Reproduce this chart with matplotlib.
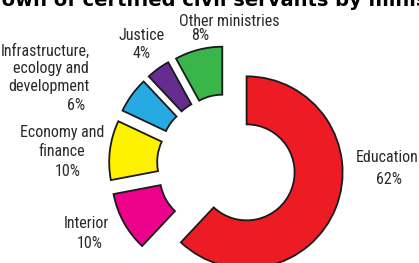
import matplotlib
matplotlib.use("Agg")
import matplotlib.pyplot as plt
from matplotlib import font_manager as fm

categories = ["Education", "Interior", "Economy and finance",
              "Infrastructure, ecology and development", "Justice", "Other ministries"]
values = [62, 10, 10, 6, 4, 8]
colors = ["#ED1C24", "#EC008C", "#FFF200", "#27AAE1", "#662D91", "#39B54A"]
title = "Breakdown of certified civil servants by ministry"

W, H = 419, 263
fig = plt.figure(figsize=(W / 100, H / 100), dpi=100)
ax = fig.add_axes([0, 0, 1, 1])

# pick a condensed font if one is installed
fp_kw = None
names = {(f.name, str(f.stretch)) for f in fm.fontManager.ttflist}
for name in ["Liberation Sans Narrow", "Roboto Condensed", "Open Sans Condensed",
             "Noto Sans Condensed", "DejaVu Sans Condensed"]:
    if any(n == name for n, _ in names):
        fp_kw = dict(family=name)
        break
if fp_kw is None:
    for n, s in names:
        if n in ("DejaVu Sans", "Noto Sans", "Roboto", "Open Sans") and s in ("condensed", "semi-condensed", "75", "87", "62"):
            fp_kw = dict(family=n, stretch="condensed")
            break
fs = 11.5
if fp_kw is None:
    fp_kw = dict(family="Liberation Sans")
    fs = 9.6

def Y(y):
    return H - y

cx, cy = 228, Y(165)
R = 96
explode = [20, 23, 23, 23, 23, 23]
ax.pie(values, colors=colors, startangle=90, counterclock=False,
       radius=R, center=(cx, cy), explode=explode,
       wedgeprops=dict(width=48, edgecolor="#1a1a1a", linewidth=1.3))
ax.set_xlim(0, W)
ax.set_ylim(0, H)
ax.set_aspect("auto")
ax.axis("off")

tc = "#2a2a2a"

def t(x, y, s, ha="center"):
    ax.text(x, Y(y), s, ha=ha, va="center", fontsize=fs, color=tc, **fp_kw)

t(229.5, 21, "Other ministries")
t(200, 35, "8%")
t(142, 35.5, "Justice")
t(141.5, 53, "4%")
t(90, 51.5, "Infrastructure,", ha="right")
t(89, 69, "ecology and", ha="right")
t(89, 86.5, "development", ha="right")
t(76, 106, "6%")
t(62, 133, "Economy and")
t(62, 151, "finance")
t(67.5, 172, "10%")
t(86.5, 224, "Interior")
t(89.5, 243, "10%")
t(387.5, 158, "Education")
t(389, 180, "62%")

ax.text(192, Y(6.5), title, ha="center", va="baseline", fontsize=14,
        fontweight="heavy", family="DejaVu Sans", color="black")

fig.savefig("out.png", dpi=100)
